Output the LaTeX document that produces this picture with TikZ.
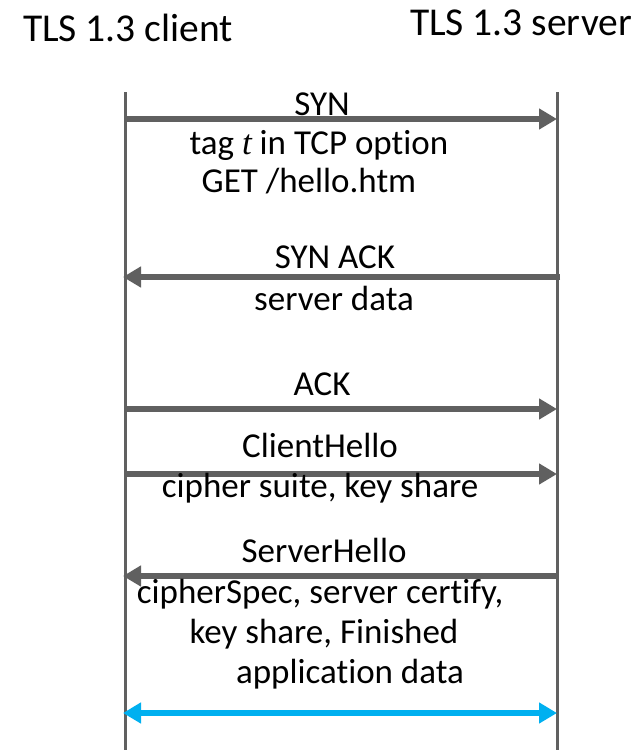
\documentclass[tikz,border=0pt]{standalone}
\usepackage{fontspec}
\setmainfont{Carlito}[Ligatures=NoCommon]
\newfontfamily\varfont{Liberation Serif}
\usetikzlibrary{arrows.meta}
\definecolor{lifegray}{HTML}{606060}
\definecolor{msgblue}{HTML}{00B0F0}
\begin{document}
\begin{tikzpicture}[x=1pt,y=-1pt,
  lifeline/.style={draw=lifegray,line width=3pt},
  msg/.style={draw=lifegray,line width=6pt,-{Triangle[length=18pt,width=20pt]}},
  datamsg/.style={draw=msgblue,line width=6pt,{Triangle[length=18pt,width=20pt]}-{Triangle[length=18pt,width=20pt]}},
  title/.style={font=\fontsize{39.5}{46}\selectfont,anchor=base,inner sep=0pt},
  lbl/.style={font=\fontsize{35}{40}\selectfont,anchor=base,inner sep=0pt}]
\useasboundingbox[fill=white] (0,0) rectangle (642,750);
% titles
\node[title] (client) at (128,41) {TLS 1.3 client};
\node[title] (server) at (521,35) {TLS 1.3 server};
% lifelines
\coordinate (c0) at (125,92); \coordinate (c1) at (125,750);
\coordinate (s0) at (557,92); \coordinate (s1) at (557,750);
\draw[lifeline] (c0) -- (c1);
\draw[lifeline] (s0) -- (s1);
% message endpoints
\coordinate (synA) at (125,119);  \coordinate (synB) at (557,119);
\coordinate (sackA) at (560,277); \coordinate (sackB) at (123,277);
\coordinate (ackA) at (125,409);  \coordinate (ackB) at (557,409);
\coordinate (chA) at (125,474);   \coordinate (chB) at (557,474);
\coordinate (shA) at (557,576);   \coordinate (shB) at (123,576);
\coordinate (adA) at (123,713);   \coordinate (adB) at (557,713);
% messages
\draw[msg] (synA) -- (synB);
\draw[msg] (sackA) -- (sackB);
\draw[msg] (ackA) -- (ackB);
\draw[msg] (chA) -- (chB);
\draw[msg] (shA) -- (shB);
\draw[datamsg] (adA) -- (adB);
% labels
\node[lbl] (l1) at (322,115) {SYN};
\node[lbl] (l2) at (319,154) {tag {\varfont\itshape t} in TCP option};
\node[lbl] (l3) at (309,192) {GET /hello.htm};
\node[lbl] (l4) at (335,268) {SYN ACK};
\node[lbl] (l5) at (334,310) {server data};
\node[lbl] (l6) at (322,395) {ACK};
\node[lbl] (l7) at (320,457) {ClientHello};
\node[lbl] (l8) at (320,497) {cipher suite, key share};
\node[lbl] (l9) at (324,562) {ServerHello};
\node[lbl] (l10) at (320,603) {cipherSpec, server certify,};
\node[lbl] (l11) at (324,643) {key share, Finished};
\node[lbl] (l12) at (350,683) {application data};
\end{tikzpicture}
\end{document}
